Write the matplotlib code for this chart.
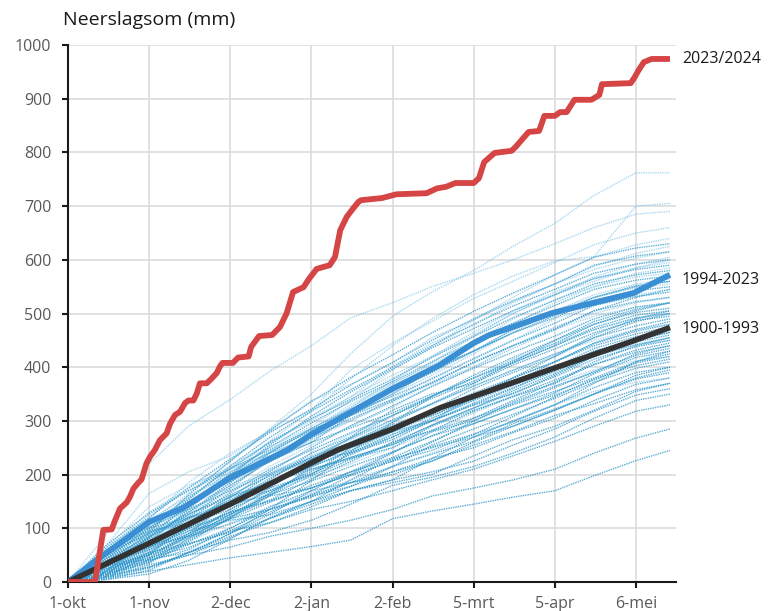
import matplotlib
matplotlib.use("Agg")
import matplotlib.pyplot as plt

# ---- data ----
tick_days = [0, 31, 62, 93, 124, 155, 186, 217]
tick_labels = ["1-okt", "1-nov", "2-dec", "2-jan", "2-feb", "5-mrt", "5-apr", "6-mei"]

# days (since 1 Oct) at which thin-line values were read
thin_days = [0, 15, 31, 46, 62, 77, 93, 108, 124, 139, 155, 170, 186, 201, 217, 230]

years_old = [
    [0, 8, 20, 32, 45, 55, 66, 78, 118, 132, 145, 158, 170, 198, 226, 245],
    [0, 12, 28, 50, 65, 85, 100, 115, 135, 160, 175, 190, 210, 240, 268, 285],
    [0, 30, 42, 55, 85, 110, 135, 150, 170, 190, 210, 235, 262, 290, 318, 330],
    [0, 5, 22, 55, 78, 92, 115, 145, 180, 195, 215, 240, 270, 305, 338, 350],
    [0, 20, 55, 72, 92, 118, 145, 170, 190, 205, 225, 255, 285, 318, 348, 360],
    [0, 15, 38, 70, 100, 135, 160, 178, 205, 225, 255, 280, 310, 332, 358, 370],
    [0, 40, 65, 85, 108, 135, 158, 185, 205, 230, 250, 278, 305, 338, 368, 380],
    [0, 10, 32, 50, 82, 118, 150, 178, 215, 238, 262, 295, 322, 350, 378, 390],
    [0, 25, 52, 82, 118, 135, 162, 198, 225, 245, 275, 298, 330, 362, 390, 400],
    [0, 18, 46, 64, 95, 130, 162, 185, 215, 255, 285, 312, 342, 372, 398, 410],
    [0, 35, 75, 100, 130, 152, 175, 205, 228, 252, 275, 308, 345, 378, 403, 415],
    [0, 15, 42, 78, 118, 148, 180, 205, 232, 262, 295, 322, 348, 376, 408, 420],
    [0, 50, 92, 118, 145, 162, 188, 215, 242, 272, 295, 322, 352, 388, 418, 430],
    [0, 22, 50, 86, 126, 162, 198, 228, 260, 282, 305, 332, 362, 392, 422, 435],
    [0, 8, 26, 55, 90, 126, 170, 205, 242, 272, 305, 338, 372, 405, 428, 440],
    [0, 30, 70, 108, 135, 170, 202, 232, 256, 282, 318, 346, 376, 405, 432, 445],
    [0, 20, 60, 90, 122, 152, 192, 224, 260, 292, 324, 352, 382, 415, 438, 450],
    [0, 45, 84, 126, 158, 184, 210, 232, 256, 292, 324, 356, 388, 420, 442, 455],
    [0, 12, 37, 81, 126, 166, 206, 237, 270, 300, 333, 362, 392, 420, 447, 460],
    [0, 28, 65, 99, 144, 180, 215, 242, 270, 305, 338, 366, 396, 430, 452, 465],
    [0, 35, 78, 112, 153, 188, 220, 250, 280, 310, 342, 370, 400, 435, 457, 470],
    [0, 18, 51, 90, 130, 175, 224, 260, 293, 318, 352, 380, 410, 440, 462, 475],
    [0, 55, 102, 135, 170, 202, 232, 260, 284, 315, 346, 380, 410, 444, 467, 480],
    [0, 25, 55, 104, 148, 193, 232, 268, 302, 332, 365, 394, 424, 455, 477, 490],
    [0, 40, 88, 126, 162, 197, 228, 260, 297, 332, 370, 404, 434, 464, 487, 495],
    [0, 15, 42, 86, 135, 184, 228, 268, 310, 346, 380, 408, 440, 470, 492, 500],
    [0, 30, 74, 117, 166, 210, 246, 278, 310, 342, 374, 408, 440, 474, 497, 505],
    [0, 60, 110, 148, 188, 224, 260, 287, 315, 346, 380, 412, 444, 480, 502, 510],
    [0, 20, 64, 108, 157, 206, 250, 291, 328, 364, 398, 428, 458, 490, 512, 520],
    [0, 35, 83, 130, 180, 224, 268, 304, 337, 372, 408, 440, 472, 505, 522, 530],
    [0, 45, 101, 148, 198, 242, 282, 314, 346, 378, 416, 450, 482, 515, 532, 540],
    [0, 25, 69, 121, 175, 228, 277, 318, 360, 396, 430, 464, 492, 525, 542, 550],
    [0, 70, 128, 170, 211, 246, 286, 322, 355, 390, 430, 464, 496, 530, 552, 560],
    [0, 30, 83, 144, 202, 251, 296, 336, 373, 410, 448, 482, 515, 545, 562, 570],
    [0, 50, 106, 157, 211, 260, 304, 340, 378, 418, 457, 492, 525, 555, 572, 580],
    [0, 20, 74, 135, 198, 255, 309, 354, 396, 436, 472, 505, 535, 565, 582, 590],
    [0, 40, 97, 153, 216, 269, 318, 358, 400, 440, 480, 514, 545, 575, 592, 600],
    [0, 65, 120, 175, 229, 278, 322, 367, 409, 450, 490, 524, 555, 590, 607, 615],
    [0, 35, 92, 162, 225, 282, 336, 381, 423, 464, 504, 538, 572, 605, 622, 630],
    [0, 10, 28, 54, 90, 135, 189, 243, 297, 345, 385, 418, 450, 485, 508, 520],
    [0, 5, 15, 40, 80, 120, 150, 170, 190, 230, 270, 300, 330, 370, 410, 430],
    [0, 60, 95, 110, 150, 200, 230, 240, 265, 300, 330, 350, 385, 420, 455, 470],
    [0, 15, 55, 95, 115, 125, 150, 190, 230, 250, 270, 290, 320, 350, 385, 400],
    [0, 25, 45, 90, 150, 175, 200, 250, 280, 300, 345, 380, 420, 460, 490, 505],
    [0, 40, 70, 85, 120, 165, 210, 230, 250, 290, 320, 345, 370, 410, 440, 455],
    [0, 20, 85, 120, 140, 190, 240, 270, 320, 350, 370, 410, 450, 480, 505, 520],
    [0, 30, 50, 70, 95, 110, 140, 170, 185, 200, 235, 265, 290, 320, 355, 370],
    [0, 10, 50, 110, 160, 185, 215, 260, 290, 310, 340, 370, 410, 445, 470, 485],
    [0, 35, 60, 100, 125, 160, 175, 200, 240, 280, 300, 335, 365, 390, 425, 440],
    [0, 55, 90, 140, 200, 230, 260, 310, 340, 370, 410, 440, 470, 505, 530, 545],
    [0, 20, 40, 60, 100, 140, 170, 185, 200, 225, 260, 290, 320, 350, 380, 395],
    [0, 45, 100, 120, 150, 170, 200, 240, 275, 300, 330, 360, 395, 430, 450, 465],
    [0, 15, 35, 75, 120, 160, 215, 245, 280, 320, 360, 390, 420, 455, 485, 500],
    [0, 25, 65, 95, 130, 150, 175, 200, 225, 260, 300, 330, 355, 380, 410, 425],
    [0, 40, 80, 130, 185, 240, 285, 310, 350, 395, 430, 470, 500, 530, 550, 560],
]

years_recent = [
    [0, 45, 110, 165, 225, 285, 350, 425, 495, 540, 580, 625, 668, 720, 762, 762],
    [0, 30, 95, 145, 200, 262, 318, 378, 440, 490, 535, 570, 598, 606, 700, 705],
    [0, 90, 220, 290, 340, 392, 440, 492, 520, 550, 575, 600, 630, 660, 685, 690],
    [0, 40, 118, 185, 240, 280, 320, 395, 445, 485, 528, 560, 595, 628, 650, 660],
    [0, 70, 165, 205, 235, 282, 338, 368, 408, 455, 488, 530, 572, 605, 628, 640],
    [0, 25, 70, 138, 212, 258, 305, 345, 402, 445, 478, 520, 555, 588, 612, 625],
    [0, 50, 100, 155, 205, 250, 290, 338, 395, 438, 488, 522, 555, 582, 603, 615],
    [0, 35, 88, 128, 185, 232, 280, 325, 368, 408, 458, 500, 535, 568, 592, 605],
    [0, 60, 130, 175, 215, 260, 300, 345, 385, 420, 460, 500, 535, 560, 585, 600],
    [0, 22, 75, 140, 195, 245, 285, 325, 375, 420, 465, 505, 540, 565, 585, 595],
    [0, 45, 115, 160, 200, 235, 275, 320, 360, 395, 440, 480, 520, 550, 575, 585],
    [0, 30, 90, 140, 190, 240, 285, 330, 370, 405, 445, 490, 525, 550, 568, 575],
    [0, 55, 125, 170, 205, 240, 270, 310, 350, 385, 425, 465, 505, 535, 555, 565],
    [0, 20, 70, 125, 180, 230, 275, 315, 355, 395, 430, 470, 505, 530, 548, 555],
    [0, 40, 105, 150, 190, 225, 265, 300, 340, 380, 415, 450, 490, 515, 535, 545],
    [0, 65, 140, 180, 210, 240, 270, 300, 335, 370, 400, 440, 475, 500, 520, 530],
    [0, 30, 80, 125, 170, 215, 255, 290, 325, 365, 400, 435, 470, 495, 512, 520],
    [0, 15, 60, 110, 160, 200, 240, 275, 310, 345, 380, 415, 445, 470, 490, 500],
    [0, 50, 110, 145, 175, 205, 235, 265, 300, 330, 365, 395, 425, 450, 470, 480],
    [0, 25, 70, 110, 150, 185, 215, 245, 275, 305, 340, 370, 400, 425, 442, 450],
    [0, 35, 85, 115, 140, 170, 195, 220, 250, 280, 315, 345, 370, 395, 412, 420],
    [0, 10, 40, 75, 110, 140, 165, 190, 215, 240, 270, 300, 330, 355, 372, 380],
]

mean_recent_days = [0, 11, 31, 44, 62, 84, 93, 124, 142, 155, 161, 174, 185, 216, 230]
mean_recent_vals = [0, 41, 112, 138, 194, 246, 275, 360, 404, 445, 460, 482, 501, 538, 572]

mean_old_days = [0, 31, 62, 93, 103, 124, 142, 161, 185, 216, 230]
mean_old_vals = [0, 72, 145, 222, 246, 285, 324, 356, 397, 449, 474]

red_days = [0, 10.3, 13.5, 16.7, 18, 19.9, 22.4, 23.7, 25, 26.9, 28.1, 30, 31.3, 33.2,
            35.1, 37.7, 39, 40.9, 42.8, 44.7, 46, 47.9, 49.2, 50.4, 53, 54.9, 56.8, 58,
            59, 63, 65, 69, 70, 73, 78, 81, 83.5, 86, 90, 92, 95, 100, 102, 104, 106.5,
            109, 111, 112, 120, 125.5, 137, 141, 144.5, 148, 155, 157, 159, 163, 169.5,
            171, 174, 176, 180, 182, 186, 188, 190.5, 193.5, 200, 203, 204, 215, 216.5,
            218, 220, 223, 230]
red_vals = [0, 0, 97, 98, 115, 137, 148, 159, 174, 185, 191, 221, 233, 246,
            264, 277, 295, 311, 317, 333, 338, 338, 351, 370, 370, 379, 389, 401,
            408, 408, 418, 420, 438, 458, 460, 475, 500, 540, 549, 564, 583, 590, 605, 655, 680,
            696, 708, 711, 715, 722, 724, 733, 736, 743, 743, 752, 782, 799, 803,
            810, 827, 838, 840, 868, 868, 875, 875, 898, 898, 907, 927, 929, 940,
            953, 968, 974, 974]

label_red = "2023/2024"
label_recent = "1994-2023"
label_old = "1900-1993"
title = "Neerslagsom (mm)"

# ---- plot ----
plt.rcParams['font.family'] = ['Open Sans', 'DejaVu Sans']
fig = plt.figure(figsize=(7.68, 6.11), dpi=100)
ax = fig.add_axes([68/768, 1-582/611, (676-68)/768, (582-45)/611])

for s in years_old:
    ax.plot(thin_days, s, color='#2592c8', lw=1.0, alpha=0.75,
            linestyle=(0, (1, 0.7)), zorder=2)
for s in years_recent:
    ax.plot(thin_days, s, color='#58b2e2', lw=1.0, alpha=0.5,
            linestyle=(0, (1, 0.7)), zorder=2)

ax.plot(mean_recent_days, mean_recent_vals, color='#3a8fd4', lw=4.2,
        solid_capstyle='butt', zorder=4)
ax.plot(mean_old_days, mean_old_vals, color='#333333', lw=4.0,
        solid_capstyle='butt', zorder=4)
ax.plot(red_days, red_vals, color='#d64545', lw=4.2,
        solid_capstyle='butt', solid_joinstyle='round', zorder=5)

ax.text(234.5, red_vals[-1], label_red, fontsize=11.5, va='center', ha='left', color='#1a1a1a')
ax.text(234.5, 562, label_recent, fontsize=11.5, va='center', ha='left', color='#1a1a1a')
ax.text(234.5, 471, label_old, fontsize=11.5, va='center', ha='left', color='#1a1a1a')

ax.set_xlim(0, 232.3)
ax.set_ylim(0, 1000)
ax.set_xticks(tick_days)
ax.set_xticklabels(tick_labels)
ax.set_yticks(range(0, 1001, 100))
ax.grid(True, color='#dcdcdc', lw=1.2, zorder=0)
ax.set_axisbelow(True)
for sp in ['top', 'right']:
    ax.spines[sp].set_visible(False)
for sp in ['left', 'bottom']:
    ax.spines[sp].set_color('#1a1a1a')
    ax.spines[sp].set_linewidth(1.5)
ax.tick_params(axis='both', direction='out', length=4, width=1.5, color='#1a1a1a',
               labelcolor='#595959', labelsize=11.5)
ax.tick_params(axis='y', pad=8)
ax.tick_params(axis='x', pad=6)

fig.text(63/768, 1-20/611, title, fontsize=14, va='center', ha='left', color='#1a1a1a')

fig.savefig('out.png', dpi=100)
